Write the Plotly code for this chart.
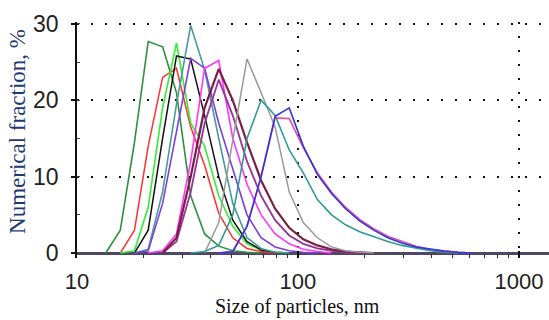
import plotly.graph_objects as go

# Size bins (nm), log-spaced
sizes_nm = [10.1, 11.7, 13.5, 15.7, 18.2, 21.0, 24.4, 28.2, 32.7, 37.8, 43.8, 50.7,
            58.8, 68.1, 78.8, 91.3, 105.7, 122.4, 141.8, 164.2, 190.1, 220.2, 255.0,
            295.3, 342.0, 396.1, 458.7, 531.2, 615.1, 712.4, 825.0, 955.4, 1106.0, 1281.0]

def pad(vals):
    return vals + [0] * (len(sizes_nm) - len(vals))

dark_green = pad([0, 0, 0, 3, 14.5, 27.7, 27, 21, 7.5, 2.5, 0.9, 0.3, 0.1, 0])
red        = pad([0, 0, 0, 0, 3, 14, 23, 24.2, 16.5, 11.5, 5.2, 2, 0.6, 0.2, 0])
lime       = pad([0, 0, 0, 0, 0.3, 6, 19, 27.5, 17, 14, 7.5, 3.5, 1.2, 0.4, 0.1, 0])
black      = pad([0, 0, 0, 0, 0, 3, 15, 25.8, 25.4, 18, 10, 4.3, 1.5, 0.4, 0.1, 0])
cadet      = pad([0, 0, 0, 0, 0, 0.5, 8, 19.5, 29.8, 24, 15, 6.5, 2, 0.6, 0.1, 0])
violet     = pad([0, 0, 0, 0, 0, 0.3, 6.5, 16, 25.5, 24.2, 17, 11, 5, 2, 0.8, 0.3, 0.1, 0])
magenta    = pad([0, 0, 0, 0, 0, 0, 0.3, 2.5, 12, 24.2, 25.2, 15, 9, 5, 2.5, 1.2, 0.5, 0.2, 0])
maroon     = pad([0, 0, 0, 0, 0, 0, 0, 2, 10, 19, 24.1, 20, 14.5, 9.5, 5.8, 3.3, 1.8, 1, 0.5, 0.2, 0.1, 0])
purple     = pad([0, 0, 0, 0, 0, 0, 0, 1.5, 8, 17, 22.7, 18, 12, 7.5, 4.3, 2.3, 1.2, 0.6, 0.3, 0.1, 0])
gray       = pad([0, 0, 0, 0, 0, 0, 0, 0, 0, 0, 4, 14.8, 25.4, 21, 16.5, 8, 4, 2, 0.8, 0.3, 0.1, 0])
teal       = pad([0, 0, 0, 0, 0, 0, 0, 0, 0, 0.2, 1, 5, 15, 20, 18, 13.5, 10.5, 7, 5, 3.7, 2.8,
                  2.1, 1.5, 1.0, 0.6, 0.3, 0.1, 0])
blue       = pad([0, 0, 0, 0, 0, 0, 0, 0, 0, 0, 0, 0.2, 3.5, 10, 17.9, 19, 14, 10.3, 7.8, 5.8,
                  4.2, 3, 2, 1.3, 0.8, 0.5, 0.25, 0.1, 0])
pink       = pad([0, 0, 0, 0, 0, 0, 0, 0, 0, 0, 0, 0.2, 3.5, 10, 17.7, 17.6, 13.8, 10.5, 8, 6,
                  4.4, 3.2, 2.2, 1.5, 0.9, 0.5, 0.25, 0.1, 0])

series = [
    ("dark green", dark_green, "#2f8f3f", 1.6),
    ("red", red, "#ff3030", 1.5),
    ("lime", lime, "#33ee33", 1.6),
    ("black", black, "#111111", 1.5),
    ("cadet", cadet, "#4a9a9a", 1.6),
    ("violet", violet, "#7b3fe0", 1.6),
    ("magenta", magenta, "#ff33ff", 1.6),
    ("purple", purple, "#993399", 1.8),
    ("maroon", maroon, "#7a1f45", 2.2),
    ("gray", gray, "#9a9a9a", 1.5),
    ("teal", teal, "#2f9a95", 1.6),
    ("pink", pink, "#e0559f", 1.6),
    ("blue", blue, "#3333dd", 1.6),
]

def trim(xs, ys):
    nz = [i for i, v in enumerate(ys) if v > 0]
    a = max(nz[0] - 1, 0)
    b = min(nz[-1] + 1, len(ys) - 1)
    return xs[a:b + 1], ys[a:b + 1]

fig = go.Figure()
for name, ys, color, w in series:
    tx, ty = trim(sizes_nm, ys)
    fig.add_trace(go.Scatter(x=tx, y=ty, mode="lines", name=name,
                             line=dict(color=color, width=w), showlegend=False))

fig.update_layout(
    width=549, height=320,
    margin=dict(l=77, r=0, t=22, b=62),
    paper_bgcolor="white", plot_bgcolor="white",
    font=dict(family="Liberation Sans, Arial", size=23, color="#222222"),
)

fig.update_xaxes(
    type="log", range=[1.0, 3.136],
    tickvals=[10, 100, 1000], ticktext=["10", "100", "1000"],
    ticks="inside", ticklen=7, tickcolor="#111111", tickwidth=1.5,
    ticklabelstandoff=8,
    showgrid=True, gridcolor="#111111", gridwidth=2, griddash="2px,12px",
    showline=False, zeroline=False,
    minor=dict(ticks="inside", ticklen=4, tickcolor="#333333", tickwidth=1, dtick="D1", showgrid=False),
    tickfont=dict(size=22, color="#222222"),
)
fig.update_yaxes(
    range=[-0.65, 30.25],
    tickvals=[0, 10, 20, 30],
    ticks="outside", ticklen=4, tickcolor="#111111", tickwidth=1.5,
    ticklabelstandoff=8,
    showgrid=True, gridcolor="#111111", gridwidth=2, griddash="2px,12px",
    showline=True, linecolor="#111111", linewidth=1.5,
    zeroline=True, zerolinecolor="#4e4866", zerolinewidth=3,
    minor=dict(ticks="inside", ticklen=3, tickcolor="#444444", tickwidth=1, dtick=5, showgrid=False),
    tickfont=dict(size=23, color="#222222"),
)

fig.add_annotation(text="Numerical fraction, %", xref="paper", yref="paper",
                   x=-0.125, y=0.534, xanchor="center", yanchor="middle",
                   textangle=-90, showarrow=False,
                   font=dict(family="Liberation Serif, Times New Roman", size=23, color="#1f3a70"))
fig.add_annotation(text="Size of particles, nm", xref="paper", yref="paper",
                   x=0.468, y=0.0, yshift=-62, xanchor="center", yanchor="bottom",
                   showarrow=False,
                   font=dict(family="Liberation Serif, Times New Roman", size=20, color="#111111"))

fig.write_html("out.html")
